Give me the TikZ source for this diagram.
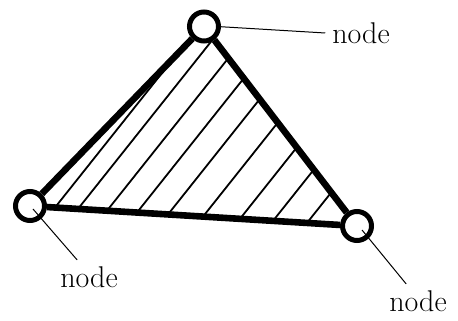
\documentclass[tikz,border=0pt]{standalone}
\usepackage{tikz}
\usetikzlibrary{calc}
\begin{document}
\begin{tikzpicture}[
    x=0.5pt,
    y=0.5pt,
    every node/.style={font=\fontsize{15}{18}\selectfont},
    vertex/.style={circle, draw=black, line width=2.5pt, fill=white,
      minimum size=14.5pt, inner sep=0pt},
    edge/.style={draw=black, line width=3.3pt},
    hatch/.style={draw=black, line width=0.9pt},
    leader/.style={draw=black, line width=0.5pt}
  ]
    \useasboundingbox (0,0) rectangle (458,320);
    % Corner positions of the element.
    \coordinate (t) at (204,293.5);
    \coordinate (l) at (30,114);
    \coordinate (r) at (357,94);

    % Hatching, clipped to the triangle.
    \begin{scope}
      \clip (t) -- (l) -- (r) -- cycle;
      \foreach \x/\y in {55/112.5,78/111.1,107/109.3,137/107.5,168/105.6,
                         203/103.4,240/101.2,273/99.1,307/97.1} {
        \draw[hatch] (\x,\y) ++(231.5:30) -- ++(51.5:400);
      }
    \end{scope}

    % Corner nodes and thick sides.
    \node[vertex] (top) at (t) {};
    \node[vertex] (left) at (l) {};
    \node[vertex] (right) at (r) {};
    \draw[edge] (top) -- (left);
    \draw[edge] (left) -- (right);
    \draw[edge] (right) -- (top);

    % Labels.
    \node (toplab) at (361,287) {node};
    \node (leftlab) at (89,42.5) {node};
    \node (rightlab) at (418,18.5) {node};
    \draw[leader] ($(top.center)+(13,0)$) -- (toplab.west);
    \draw[leader] ($(left.center)+(3,-3)$) -- (leftlab.124);
    \draw[leader] ($(right.center)+(5,-4)$) -- (rightlab.124);
  \end{tikzpicture}
\end{document}
